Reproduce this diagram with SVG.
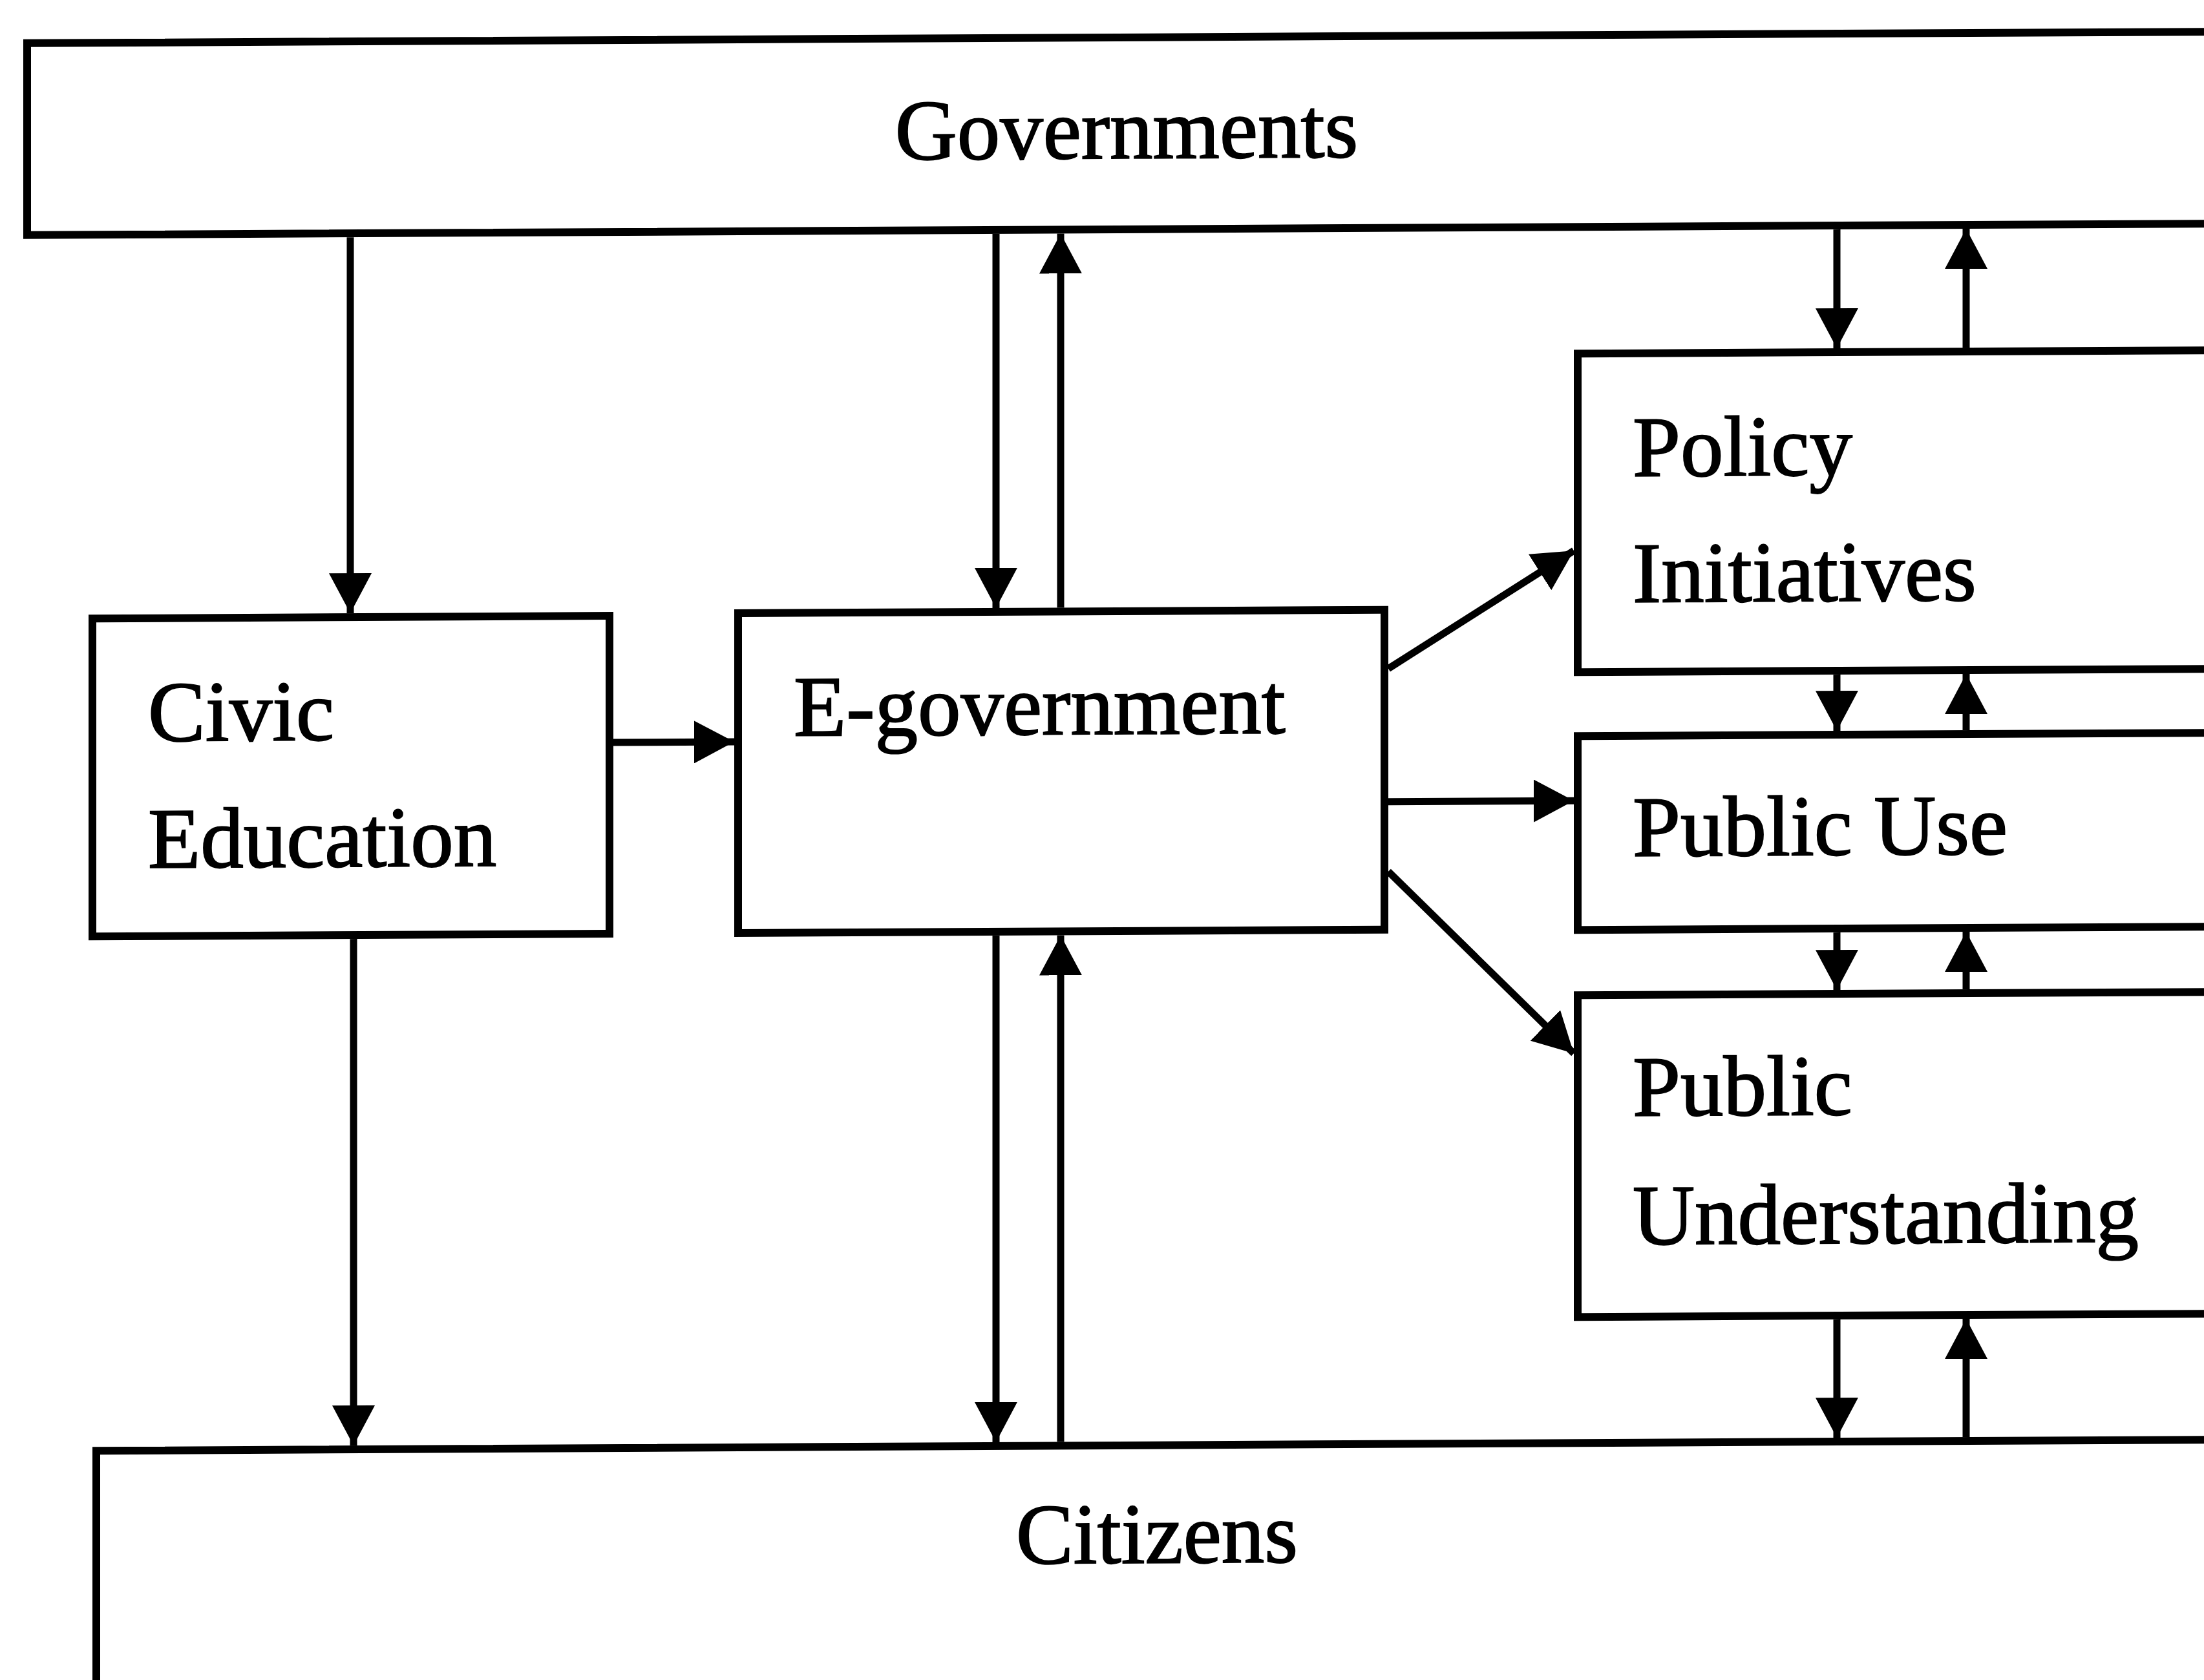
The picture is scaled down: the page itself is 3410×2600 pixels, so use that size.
<svg xmlns="http://www.w3.org/2000/svg" width="3410" height="2600" viewBox="0 0 3410 2600">
  <style>
    .box { fill: none; stroke: #000; stroke-width: 12; }
    .edge { fill: none; stroke: #000; stroke-width: 11; marker-end: url(#ah); }
    .lbl { font-family: "Liberation Serif", "Times New Roman", serif; font-size: 133px; fill: #000; stroke: #000; stroke-width: 2; }
    .mid { text-anchor: middle; }
  </style>
  <defs>
    <marker id="ah" viewBox="0 0 62 66" refX="62" refY="33" markerWidth="62" markerHeight="66" markerUnits="userSpaceOnUse" orient="auto">
      <path d="M0,0 L62,33 L0,66 Z" fill="#000"/>
    </marker>
  </defs>
  <rect x="0" y="0" width="3410" height="2600" fill="#fff"/>
  <!-- the whole sheet sits with a very slight slant -->
  <g transform="skewY(-0.3)">
    <g id="governments">
      <rect class="box" x="42" y="67" width="3450" height="297"/>
      <text class="lbl mid" x="1743" y="254">Governments</text>
    </g>
    <g id="civic-education">
      <rect class="box" x="143" y="958" width="800" height="492"/>
      <text class="lbl" x="229" y="1148">Civic</text>
      <text class="lbl" x="229" y="1344">Education</text>
    </g>
    <g id="e-government">
      <rect class="box" x="1142" y="955" width="1000" height="495"/>
      <text class="lbl" x="1228" y="1145">E-government</text>
    </g>
    <g id="policy-initiatives">
      <rect class="box" x="2441" y="560" width="1050" height="493"/>
      <text class="lbl" x="2526" y="750">Policy</text>
      <text class="lbl" x="2526" y="945">Initiatives</text>
    </g>
    <g id="public-use">
      <rect class="box" x="2441" y="1152" width="1050" height="300"/>
      <text class="lbl" x="2526" y="1338">Public Use</text>
    </g>
    <g id="public-understanding">
      <rect class="box" x="2441" y="1553" width="1050" height="498"/>
      <text class="lbl" x="2526" y="1740">Public</text>
      <text class="lbl" x="2526" y="1939">Understanding</text>
    </g>
    <g id="citizens">
      <rect class="box" x="149" y="2246" width="3350" height="500"/>
      <text class="lbl mid" x="1790" y="2428">Citizens</text>
    </g>
    <g id="connectors">
      <path class="edge" d="M542,370 V952"/>
      <path class="edge" d="M547,1456 V2240"/>
      <path class="edge" d="M949,1154 H1136"/>
      <path class="edge" d="M1541,370 V949"/>
      <path class="edge" d="M1641,949 V370"/>
      <path class="edge" d="M1541,1456 V2240"/>
      <path class="edge" d="M1641,2240 V1456"/>
      <path class="edge" d="M2148,1046 L2435,865"/>
      <path class="edge" d="M2148,1252 H2435"/>
      <path class="edge" d="M2148,1360 L2435,1643"/>
      <path class="edge" d="M2842,370 V554"/>
      <path class="edge" d="M3042,554 V370"/>
      <path class="edge" d="M2842,1059 V1146"/>
      <path class="edge" d="M3042,1146 V1059"/>
      <path class="edge" d="M2842,1458 V1547"/>
      <path class="edge" d="M3042,1547 V1458"/>
      <path class="edge" d="M2842,2057 V2240"/>
      <path class="edge" d="M3042,2240 V2057"/>
    </g>
  </g>
</svg>
